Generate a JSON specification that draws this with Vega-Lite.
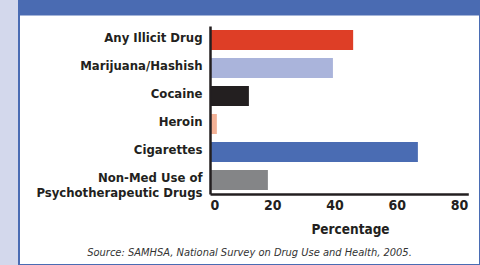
{
  "$schema": "https://vega.github.io/schema/vega-lite/v6.json",
  "width": 461,
  "height": 265,
  "autosize": {"type": "none"},
  "padding": {"left": 19, "top": 0, "right": 0, "bottom": 0},
  "background": "#d3d8ec",
  "title": {
    "text": "Source: SAMHSA, National Survey on Drug Use and Health, 2005.",
    "orient": "bottom",
    "frame": "group",
    "anchor": "middle",
    "baseline": "alphabetic",
    "offset": -9,
    "font": "DejaVu Sans Condensed, sans-serif",
    "fontSize": 11,
    "fontStyle": "italic",
    "fontWeight": "normal",
    "color": "#333333"
  },
  "config": {
    "view": {"fill": "white", "stroke": "#4a6cb3", "strokeWidth": 2}
  },
  "resolve": {"scale": {"x": "independent"}, "axis": {"x": "independent"}},
  "layer": [
    {
      "data": {
        "values": [
          {"drug": "Any Illicit Drug", "pct": 46},
          {"drug": "Marijuana/Hashish", "pct": 39.5},
          {"drug": "Cocaine", "pct": 12.5},
          {"drug": "Heroin", "pct": 2.2},
          {"drug": "Cigarettes", "pct": 66.8},
          {"drug": "Non-Med Use of Psychotherapeutic Drugs", "pct": 18.6}
        ]
      },
      "mark": {"type": "bar"},
      "encoding": {
        "y": {
          "field": "drug",
          "type": "nominal",
          "sort": null,
          "scale": {"range": [26, 194], "paddingInner": 0.2857, "paddingOuter": 0.1429},
          "axis": {
            "orient": "left",
            "offset": -191,
            "title": null,
            "ticks": false,
            "tickSize": 0,
            "domainColor": "#231f20",
            "domainWidth": 2.5,
            "labelFont": "DejaVu Sans Condensed, sans-serif",
            "labelFontSize": 13,
            "labelFontWeight": "bold",
            "labelColor": "#231f20",
            "labelPadding": 8,
            "labelLimit": 300,
            "labelLineHeight": 15,
            "labelOffset": -2,
            "labelExpr": "datum.label == 'Non-Med Use of Psychotherapeutic Drugs' ? ['Non-Med Use of', 'Psychotherapeutic Drugs'] : datum.label",
            "zindex": 1
          }
        },
        "x": {
          "field": "pct",
          "type": "quantitative",
          "scale": {"domain": [0, 83], "range": [191, 449.3], "nice": false},
          "axis": {
            "orient": "bottom",
            "offset": -71,
            "values": [0, 20, 40, 60, 80],
            "grid": false,
            "ticks": false,
            "tickSize": 0,
            "domainColor": "#231f20",
            "domainWidth": 2.5,
            "labelFont": "DejaVu Sans Condensed, sans-serif",
            "labelFontSize": 14,
            "labelFontWeight": "bold",
            "labelColor": "#231f20",
            "labelPadding": 4,
            "title": "Percentage",
            "titleFont": "DejaVu Sans Condensed, sans-serif",
            "titleFontSize": 13.5,
            "titleFontWeight": "bold",
            "titleColor": "#231f20",
            "titleBaseline": "alphabetic",
            "titleX": 331,
            "titleY": 39,
            "zindex": 1
          }
        },
        "color": {
          "field": "drug",
          "type": "nominal",
          "sort": null,
          "legend": null,
          "scale": {
            "domain": ["Any Illicit Drug", "Marijuana/Hashish", "Cocaine", "Heroin", "Cigarettes", "Non-Med Use of Psychotherapeutic Drugs"],
            "range": ["#de3e26", "#aab4db", "#231f20", "#f2b196", "#4a6cb3", "#848587"]
          }
        }
      }
    },
    {
      "data": {"values": [{"b": 0}, {"b": 1}]},
      "mark": {"type": "point", "opacity": 0},
      "encoding": {
        "x": {
          "field": "b",
          "type": "quantitative",
          "scale": {"domain": [0, 1], "nice": false},
          "axis": {
            "orient": "top",
            "offset": 0,
            "grid": false,
            "ticks": false,
            "labels": false,
            "domainColor": "#4a6bb2",
            "domainWidth": 30,
            "title": "Illicit Drugs, Cigarettes, and Nonmedical Use of Psychotherapeutic Drugs in the Past Month",
            "titleColor": "white",
            "titleFont": "DejaVu Sans, sans-serif",
            "titleFontSize": 13,
            "titleFontWeight": "normal",
            "titleAnchor": "start",
            "titleAlign": "left",
            "titleBaseline": "alphabetic",
            "titleX": 18,
            "titleY": -4
          }
        }
      }
    }
  ]
}
